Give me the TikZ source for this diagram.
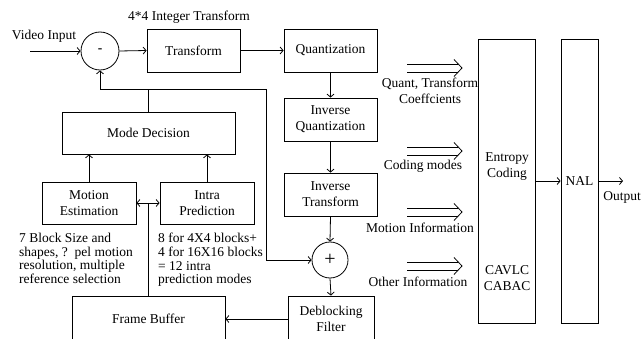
\documentclass[tikz,border=0pt]{standalone}
\usepackage{fontspec}
\setmainfont{Liberation Serif}
\usetikzlibrary{arrows.meta}

\tikzset{
  txt/.style={font=\fontsize{13.5}{16}\selectfont, inner sep=0pt, align=center},
  note/.style={font=\fontsize{13.5}{13.7}\selectfont, inner sep=0pt, align=left, anchor=north west},
  blk/.style={draw, line width=0.8pt, txt, minimum width=#1},
  blk/.default=93pt,
  sumnode/.style={draw, circle, line width=0.8pt, txt, minimum size=#1},
  wire/.style={line width=0.8pt},
  flow/.style={wire, -{Straight Barb[length=3pt,width=7pt]}},
  bothflow/.style={wire, {Straight Barb[length=3pt,width=7pt]}-{Straight Barb[length=3pt,width=7pt]}},
  pics/fatarrow/.style={code={
    \draw[wire] (0,-4) -- (51,-4);
    \draw[wire] (0,4) -- (51,4);
    \draw[wire] (47,-8.5) -- (55,0) -- (47,8.5);
  }}
}

\begin{document}
\begin{tikzpicture}[x=1pt,y=-1pt]
\useasboundingbox (0,0) rectangle (642,339);
\clip (0,0) rectangle (642,339);
\fill[white] (0,0) rectangle (642,339);

% forward path
\coordinate (vin) at (30,51);
\node[txt] (vinlbl) at (44,36) {Video Input};
\node[sumnode=38pt] (minus) at (100,51) {\textbf{-}};
\node[txt] (itlbl) at (189,17) {4*4 Integer Transform};
\node[blk, minimum height=43pt] (tr) at (193.5,50.5) {Transform};
\node[blk, minimum height=43pt] (q) at (330.5,50.5) {Quantization};
\node[blk, minimum height=43pt] (iq) at (330.5,119.5) {Inverse\\Quantization};
\node[blk, minimum height=43pt] (it) at (330.5,194.5) {Inverse\\Transform};
\node[sumnode=36pt] (plus) at (330,260) {\fontsize{20}{20}\selectfont +};
\node[blk=86pt, minimum height=46pt] (df) at (331,319) {Deblocking\\Filter};

% prediction loop
\node[blk=153pt, minimum height=46pt] (fb) at (148.5,319) {Frame Buffer};
\node[blk=173pt, minimum height=42pt] (md) at (148.5,133) {Mode Decision};
\node[blk=94pt, minimum height=42pt] (me) at (89,203) {Motion\\Estimation};
\node[blk=94pt, minimum height=42pt] (ip) at (207,203) {Intra\\Prediction};

% entropy coding and NAL
\node[draw, line width=0.8pt, minimum width=57pt, minimum height=284pt, inner sep=0pt] (ec) at (506.5,181) {};
\node[txt] (ectxt) at (507,167) {Entropy\\Coding};
\node[txt] (cabac) at (507,278) {CAVLC\\CABAC};
\node[blk=37pt, minimum height=284pt] (nal) at (579.5,181) {NAL};
\coordinate (out) at (623,181);
\node[txt] (outlbl) at (622,197) {Output};

% annotations
\node[note] (mnote) at (19,233) {7 Block Size and\\shapes, ?\ \ pel motion\\resolution, multiple\\reference selection};
\node[note] (inote) at (158,233) {8 for 4X4 blocks+\\4 for 16X16 blocks\\= 12 intra\\prediction modes};

% connectors
\draw[flow] (vin) -- (minus.west);
\draw[flow] (minus.east) -- (tr.west);
\draw[flow] (tr.east) -- (q.west);
\draw[flow] (q.south) -- (iq.north);
\draw[flow] (iq.south) -- (it.north);
\draw[flow] (it.south) -- (plus.north);
\draw[flow] (plus.south) -- (df.north);
\draw[flow] (df.west) -- (fb.east);
\draw[flow] (me.north) -- (md.south -| me.north);
\draw[flow] (ip.north) -- (md.south -| ip.north);
\draw[bothflow] (me.east) -- (ip.west);
\draw[wire] (fb.north) -- (fb.north |- me.east);
\coordinate (split) at (148.5,89);
\draw[wire] (md.north) -- (split);
\draw[flow] (split) -- (100,89) -- (minus.south);
\draw[flow] (split) -- (266,89) -- (266,260) -- (plus.west);
\draw[flow] (ec.east) -- (nal.west);
\draw[flow] (nal.east) -- (out);

% side information into the entropy coder
\pic at (407,68) {fatarrow};
\node[txt] (l1) at (430,91) {Quant, Transform\\Coeffcients};
\pic at (407,151) {fatarrow};
\node[txt] (l2) at (423,166) {Coding modes};
\pic at (407,212) {fatarrow};
\node[txt] (l3) at (420,228) {Motion Information};
\pic at (407,266) {fatarrow};
\node[txt] (l4) at (418,282) {Other Information};
\end{tikzpicture}
\end{document}
